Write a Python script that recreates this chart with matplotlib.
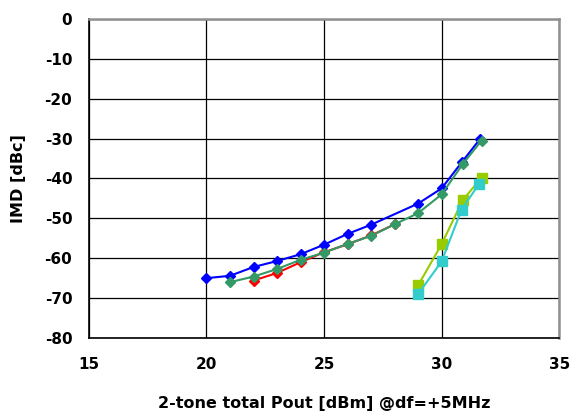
import numpy as np
import matplotlib.pyplot as plt

plt.rcParams['font.family'] = ['DejaVu Sans']
plt.rcParams['axes.unicode_minus'] = False

# series data
blue_x = [20, 21, 22, 23, 24, 25, 26, 27, 29, 30, 30.85, 31.65]
blue_y = [-65.0, -64.4, -62.2, -60.7, -59.0, -56.6, -53.9, -51.6, -46.3, -42.5, -36.0, -30.0]

red_x = [22, 23, 24, 25, 26, 27, 28]
red_y = [-65.6, -63.7, -61.0, -58.5, -56.5, -54.3, -51.5]

green_x = [21, 22, 23, 24, 25, 26, 27, 28, 29, 30, 30.9, 31.7]
green_y = [-66.0, -64.6, -62.7, -60.4, -58.6, -56.4, -54.4, -51.5, -48.7, -44.0, -36.4, -30.5]

yg_x = [29.0, 30.0, 30.9, 31.7]
yg_y = [-66.8, -56.5, -45.4, -39.8]

cyan_x = [29.0, 30.0, 30.85, 31.6]
cyan_y = [-69.0, -60.8, -47.8, -41.3]

xticks = [15, 20, 25, 30, 35]
yticks = [0, -10, -20, -30, -40, -50, -60, -70, -80]

fig = plt.figure(figsize=(5.7, 4.15), dpi=100)
ax = fig.add_axes([0.156, 0.1855, 0.825, 0.769])

ax.plot(blue_x, blue_y, color='#0000FF', lw=1.5, marker='D', ms=5.5, zorder=5)
ax.plot(red_x, red_y, color='#FF0000', lw=1.5, marker='D', ms=5.5, zorder=4)
ax.plot(green_x, green_y, color='#339966', lw=1.5, marker='D', ms=5.5, zorder=6)
ax.plot(yg_x, yg_y, color='#99CC00', lw=1.5, marker='s', ms=6.5, zorder=4)
ax.plot(cyan_x, cyan_y, color='#33CCCC', lw=1.5, marker='s', ms=6.5, zorder=5)

ax.set_xlim(15, 35)
ax.set_ylim(-80, 0)
ax.set_xticks(xticks)
ax.set_yticks(yticks)
ax.grid(True, color='black', lw=0.9)
ax.set_axisbelow(True)
ax.tick_params(length=0, labelsize=11)
ax.tick_params(axis='y', pad=12)
ax.tick_params(axis='x', pad=14)
for lbl in ax.get_xticklabels() + ax.get_yticklabels():
    lbl.set_fontweight('bold')

ax.spines['left'].set_color('black')
ax.spines['bottom'].set_color('black')
ax.spines['left'].set_linewidth(1.2)
ax.spines['bottom'].set_linewidth(1.2)
ax.spines['top'].set_color('#909090')
ax.spines['right'].set_color('#909090')
ax.spines['top'].set_linewidth(1.8)
ax.spines['right'].set_linewidth(1.8)

ax.set_xlabel('2-tone total Pout [dBm] @df=+5MHz', fontsize=11.5, fontweight='bold', labelpad=17)
ax.set_ylabel('IMD [dBc]', fontsize=11.5, fontweight='bold', labelpad=13)

fig.savefig('out.png', dpi=100)
